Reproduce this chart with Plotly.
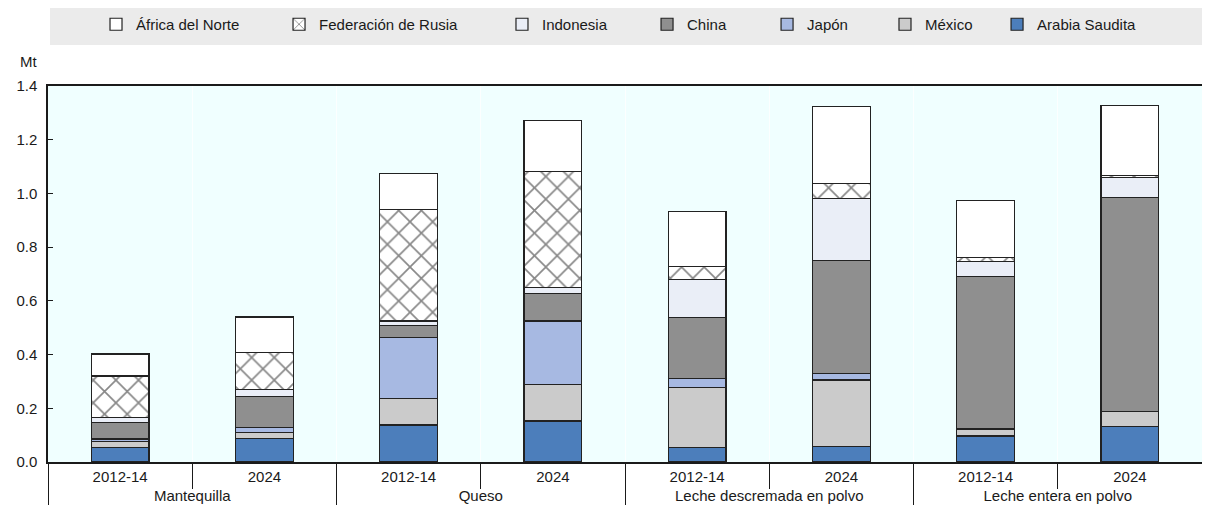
import plotly.graph_objects as go

groups = ["Mantequilla", "Mantequilla", "Queso", "Queso",
          "Leche descremada en polvo", "Leche descremada en polvo",
          "Leche entera en polvo", "Leche entera en polvo"]
periods = ["2012-14", "2024"] * 4

arabia = [0.053, 0.088, 0.138, 0.153, 0.055, 0.057, 0.097, 0.132]
mexico = [0.023, 0.021, 0.099, 0.136, 0.223, 0.248, 0.025, 0.055]
japon = [0.010, 0.019, 0.226, 0.236, 0.034, 0.025, 0.002, 0.002]
china = [0.060, 0.115, 0.044, 0.103, 0.225, 0.419, 0.568, 0.797]
indonesia = [0.020, 0.028, 0.018, 0.022, 0.144, 0.233, 0.056, 0.072]
rusia = [0.154, 0.137, 0.416, 0.431, 0.046, 0.056, 0.012, 0.009]
africa = [0.082, 0.132, 0.134, 0.192, 0.205, 0.285, 0.214, 0.260]

# (name, values, colour, pattern, legend id, legend x in paper coords)
series = [
    ("Arabia Saudita", arabia, "#4C7EBB", None, "legend7", 0.8224),
    ("México", mexico, "#CBCBCB", None, "legend6", 0.7253),
    ("Japón", japon, "#A7B9E2", None, "legend5", 0.6231),
    ("China", china, "#8F8F8F", None, "legend4", 0.5191),
    ("Indonesia", indonesia, "#EAEEF7", None, "legend3", 0.3934),
    ("Federación de Rusia", rusia, "#FFFFFF", "x", "legend2", 0.2002),
    ("África del Norte", africa, "#FFFFFF", None, "legend", 0.0416),
]

FONT = "Liberation Sans, Arial, sans-serif"
TXT = "#1a1a1a"

fig = go.Figure()
legend_layouts = {}
for name, vals, color, pat, leg, lx in series:
    marker = dict(color=color, line=dict(color="#222222", width=1.2))
    if pat:
        marker["pattern"] = dict(shape=pat, fgcolor="#111111", bgcolor="#FFFFFF",
                                 size=16, solidity=0.2, fillmode="overlay")
    fig.add_trace(go.Bar(name=name, x=[groups, periods], y=vals, marker=marker,
                         legend=leg))
    legend_layouts[leg] = dict(orientation="h", x=lx, y=1.165, xanchor="left",
                               yanchor="middle", bgcolor="rgba(0,0,0,0)",
                               itemwidth=30,
                               font=dict(family=FONT, size=15, color=TXT))

fig.add_shape(type="rect", xref="paper", yref="paper",
              x0=0.0017, x1=1.0, y0=1.109, y1=1.23,
              fillcolor="#EBEBEB", line=dict(width=0), layer="below")

fig.add_annotation(text="Mt", xref="paper", yref="paper", x=-0.017, y=1.064,
                   showarrow=False, font=dict(family=FONT, size=15, color=TXT),
                   xanchor="center", yanchor="middle")

fig.update_layout(
    width=1194, height=501,
    margin=dict(l=40, r=0, t=78, b=47),
    barmode="stack", bargap=0.6,
    paper_bgcolor="white", plot_bgcolor="#F0FFFF",
    font=dict(family=FONT, size=15, color=TXT),
    showlegend=True,
    xaxis=dict(type="multicategory", showline=True, linecolor=TXT, linewidth=1.5,
               mirror=True, ticks="outside", tickson="boundaries", ticklen=25,
               tickcolor=TXT, showdividers=True, dividercolor=TXT,
               dividerwidth=1, showgrid=True, gridcolor="#FCFFFF",
               tickfont=dict(family=FONT, size=15, color=TXT)),
    yaxis=dict(range=[0, 1.4], dtick=0.2, tickformat=".1f", showline=True,
               linecolor=TXT, linewidth=1.5, mirror=False, ticks="inside",
               ticklen=5, tickcolor=TXT, showgrid=False, zeroline=False,
               ticklabelstandoff=6,
               tickfont=dict(family=FONT, size=15, color=TXT)),
    **legend_layouts,
)

fig.write_html("out.html")
